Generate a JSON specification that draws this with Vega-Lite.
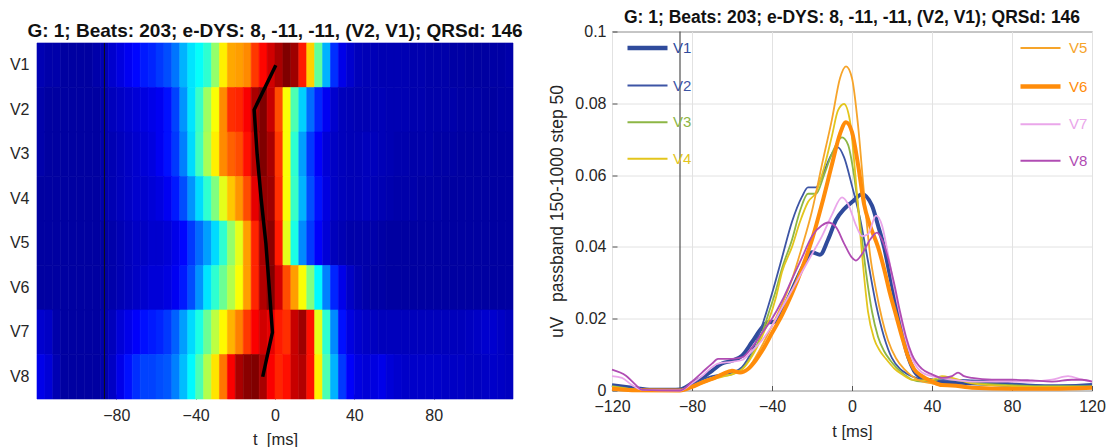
{
"background":"white",
"padding":{"left":9,"top":8.5,"right":0,"bottom":0},
"autosize":{"type":"pad"},
"config":{"font":"Liberation Sans","view":{"stroke":"#555555","strokeWidth":1},
"axis":{"labelFont":"Liberation Sans","labelFontSize":16,"labelColor":"#262626","titleFont":"Liberation Sans","titleFontSize":16.5,"titleFontWeight":"normal","titleColor":"#262626","domain":false,"tickColor":"#555555","labelFlush":false},
"title":{"font":"Liberation Sans","fontSize":17.5,"fontWeight":"bold","color":"#111111"},
"concat":{"spacing":25}},
"datasets":{
"vline":[{"t":-86}],
"path":[{"lead":"V1","t":0.4},{"lead":"V2","t":-10.5},{"lead":"V3","t":-9},{"lead":"V4","t":-7},{"lead":"V5","t":-4.6},{"lead":"V6","t":-2.9},{"lead":"V7","t":-1.3},{"lead":"V8","t":-6.2}],
"heat":[
{"lead":"V1","t0":-120,"t1":-116,"v":0.04},{"lead":"V1","t0":-116,"t1":-112,"v":0.03},{"lead":"V1","t0":-112,"t1":-108,"v":0.03},{"lead":"V1","t0":-108,"t1":-104,"v":0.02},{"lead":"V1","t0":-104,"t1":-100,"v":0.02},{"lead":"V1","t0":-100,"t1":-96,"v":0.02},{"lead":"V1","t0":-96,"t1":-92,"v":0.02},{"lead":"V1","t0":-92,"t1":-88,"v":0.03},{"lead":"V1","t0":-88,"t1":-84,"v":0.04},{"lead":"V1","t0":-84,"t1":-80,"v":0.07},{"lead":"V1","t0":-80,"t1":-76,"v":0.09},{"lead":"V1","t0":-76,"t1":-72,"v":0.11},{"lead":"V1","t0":-72,"t1":-68,"v":0.13},{"lead":"V1","t0":-68,"t1":-64,"v":0.15},{"lead":"V1","t0":-64,"t1":-60,"v":0.16},{"lead":"V1","t0":-60,"t1":-56,"v":0.18},{"lead":"V1","t0":-56,"t1":-52,"v":0.2},{"lead":"V1","t0":-52,"t1":-48,"v":0.24},{"lead":"V1","t0":-48,"t1":-44,"v":0.3},{"lead":"V1","t0":-44,"t1":-40,"v":0.35},{"lead":"V1","t0":-40,"t1":-36,"v":0.38},{"lead":"V1","t0":-36,"t1":-32,"v":0.42},{"lead":"V1","t0":-32,"t1":-28,"v":0.52},{"lead":"V1","t0":-28,"t1":-24,"v":0.64},{"lead":"V1","t0":-24,"t1":-20,"v":0.71},{"lead":"V1","t0":-20,"t1":-16,"v":0.72},{"lead":"V1","t0":-16,"t1":-12,"v":0.74},{"lead":"V1","t0":-12,"t1":-8,"v":0.82},{"lead":"V1","t0":-8,"t1":-4,"v":0.87},{"lead":"V1","t0":-4,"t1":0,"v":0.92},{"lead":"V1","t0":0,"t1":4,"v":0.96},{"lead":"V1","t0":4,"t1":8,"v":1.0},{"lead":"V1","t0":8,"t1":12,"v":0.97},{"lead":"V1","t0":12,"t1":16,"v":0.85},{"lead":"V1","t0":16,"t1":20,"v":0.67},{"lead":"V1","t0":20,"t1":24,"v":0.47},{"lead":"V1","t0":24,"t1":28,"v":0.3},{"lead":"V1","t0":28,"t1":32,"v":0.17},{"lead":"V1","t0":32,"t1":36,"v":0.1},{"lead":"V1","t0":36,"t1":40,"v":0.07},{"lead":"V1","t0":40,"t1":44,"v":0.05},{"lead":"V1","t0":44,"t1":48,"v":0.045},{"lead":"V1","t0":48,"t1":52,"v":0.045},{"lead":"V1","t0":52,"t1":56,"v":0.04},{"lead":"V1","t0":56,"t1":60,"v":0.04},{"lead":"V1","t0":60,"t1":64,"v":0.04},{"lead":"V1","t0":64,"t1":68,"v":0.04},{"lead":"V1","t0":68,"t1":72,"v":0.035},{"lead":"V1","t0":72,"t1":76,"v":0.035},{"lead":"V1","t0":76,"t1":80,"v":0.03},{"lead":"V1","t0":80,"t1":84,"v":0.03},{"lead":"V1","t0":84,"t1":88,"v":0.03},{"lead":"V1","t0":88,"t1":92,"v":0.025},{"lead":"V1","t0":92,"t1":96,"v":0.025},{"lead":"V1","t0":96,"t1":100,"v":0.02},{"lead":"V1","t0":100,"t1":104,"v":0.02},{"lead":"V1","t0":104,"t1":108,"v":0.02},{"lead":"V1","t0":108,"t1":112,"v":0.025},{"lead":"V1","t0":112,"t1":116,"v":0.025},{"lead":"V1","t0":116,"t1":120,"v":0.03},
{"lead":"V2","t0":-120,"t1":-116,"v":0.03},{"lead":"V2","t0":-116,"t1":-112,"v":0.02},{"lead":"V2","t0":-112,"t1":-108,"v":0.02},{"lead":"V2","t0":-108,"t1":-104,"v":0.02},{"lead":"V2","t0":-104,"t1":-100,"v":0.02},{"lead":"V2","t0":-100,"t1":-96,"v":0.02},{"lead":"V2","t0":-96,"t1":-92,"v":0.02},{"lead":"V2","t0":-92,"t1":-88,"v":0.02},{"lead":"V2","t0":-88,"t1":-84,"v":0.03},{"lead":"V2","t0":-84,"t1":-80,"v":0.05},{"lead":"V2","t0":-80,"t1":-76,"v":0.06},{"lead":"V2","t0":-76,"t1":-72,"v":0.07},{"lead":"V2","t0":-72,"t1":-68,"v":0.08},{"lead":"V2","t0":-68,"t1":-64,"v":0.09},{"lead":"V2","t0":-64,"t1":-60,"v":0.1},{"lead":"V2","t0":-60,"t1":-56,"v":0.11},{"lead":"V2","t0":-56,"t1":-52,"v":0.14},{"lead":"V2","t0":-52,"t1":-48,"v":0.19},{"lead":"V2","t0":-48,"t1":-44,"v":0.27},{"lead":"V2","t0":-44,"t1":-40,"v":0.35},{"lead":"V2","t0":-40,"t1":-36,"v":0.43},{"lead":"V2","t0":-36,"t1":-32,"v":0.53},{"lead":"V2","t0":-32,"t1":-28,"v":0.62},{"lead":"V2","t0":-28,"t1":-24,"v":0.74},{"lead":"V2","t0":-24,"t1":-20,"v":0.83},{"lead":"V2","t0":-20,"t1":-16,"v":0.84},{"lead":"V2","t0":-16,"t1":-12,"v":0.88},{"lead":"V2","t0":-12,"t1":-8,"v":0.96},{"lead":"V2","t0":-8,"t1":-4,"v":1.0},{"lead":"V2","t0":-4,"t1":0,"v":0.93},{"lead":"V2","t0":0,"t1":4,"v":0.8},{"lead":"V2","t0":4,"t1":8,"v":0.62},{"lead":"V2","t0":8,"t1":12,"v":0.45},{"lead":"V2","t0":12,"t1":16,"v":0.33},{"lead":"V2","t0":16,"t1":20,"v":0.23},{"lead":"V2","t0":20,"t1":24,"v":0.16},{"lead":"V2","t0":24,"t1":28,"v":0.11},{"lead":"V2","t0":28,"t1":32,"v":0.07},{"lead":"V2","t0":32,"t1":36,"v":0.05},{"lead":"V2","t0":36,"t1":40,"v":0.045},{"lead":"V2","t0":40,"t1":44,"v":0.04},{"lead":"V2","t0":44,"t1":48,"v":0.04},{"lead":"V2","t0":48,"t1":52,"v":0.045},{"lead":"V2","t0":52,"t1":56,"v":0.045},{"lead":"V2","t0":56,"t1":60,"v":0.04},{"lead":"V2","t0":60,"t1":64,"v":0.04},{"lead":"V2","t0":64,"t1":68,"v":0.04},{"lead":"V2","t0":68,"t1":72,"v":0.035},{"lead":"V2","t0":72,"t1":76,"v":0.035},{"lead":"V2","t0":76,"t1":80,"v":0.03},{"lead":"V2","t0":80,"t1":84,"v":0.03},{"lead":"V2","t0":84,"t1":88,"v":0.03},{"lead":"V2","t0":88,"t1":92,"v":0.03},{"lead":"V2","t0":92,"t1":96,"v":0.025},{"lead":"V2","t0":96,"t1":100,"v":0.025},{"lead":"V2","t0":100,"t1":104,"v":0.025},{"lead":"V2","t0":104,"t1":108,"v":0.02},{"lead":"V2","t0":108,"t1":112,"v":0.02},{"lead":"V2","t0":112,"t1":116,"v":0.025},{"lead":"V2","t0":116,"t1":120,"v":0.025},
{"lead":"V3","t0":-120,"t1":-116,"v":0.03},{"lead":"V3","t0":-116,"t1":-112,"v":0.02},{"lead":"V3","t0":-112,"t1":-108,"v":0.02},{"lead":"V3","t0":-108,"t1":-104,"v":0.02},{"lead":"V3","t0":-104,"t1":-100,"v":0.02},{"lead":"V3","t0":-100,"t1":-96,"v":0.02},{"lead":"V3","t0":-96,"t1":-92,"v":0.02},{"lead":"V3","t0":-92,"t1":-88,"v":0.02},{"lead":"V3","t0":-88,"t1":-84,"v":0.03},{"lead":"V3","t0":-84,"t1":-80,"v":0.04},{"lead":"V3","t0":-80,"t1":-76,"v":0.05},{"lead":"V3","t0":-76,"t1":-72,"v":0.06},{"lead":"V3","t0":-72,"t1":-68,"v":0.07},{"lead":"V3","t0":-68,"t1":-64,"v":0.08},{"lead":"V3","t0":-64,"t1":-60,"v":0.09},{"lead":"V3","t0":-60,"t1":-56,"v":0.11},{"lead":"V3","t0":-56,"t1":-52,"v":0.14},{"lead":"V3","t0":-52,"t1":-48,"v":0.18},{"lead":"V3","t0":-48,"t1":-44,"v":0.25},{"lead":"V3","t0":-44,"t1":-40,"v":0.34},{"lead":"V3","t0":-40,"t1":-36,"v":0.44},{"lead":"V3","t0":-36,"t1":-32,"v":0.54},{"lead":"V3","t0":-32,"t1":-28,"v":0.64},{"lead":"V3","t0":-28,"t1":-24,"v":0.74},{"lead":"V3","t0":-24,"t1":-20,"v":0.78},{"lead":"V3","t0":-20,"t1":-16,"v":0.8},{"lead":"V3","t0":-16,"t1":-12,"v":0.86},{"lead":"V3","t0":-12,"t1":-8,"v":0.94},{"lead":"V3","t0":-8,"t1":-4,"v":1.0},{"lead":"V3","t0":-4,"t1":0,"v":0.96},{"lead":"V3","t0":0,"t1":4,"v":0.82},{"lead":"V3","t0":4,"t1":8,"v":0.62},{"lead":"V3","t0":8,"t1":12,"v":0.42},{"lead":"V3","t0":12,"t1":16,"v":0.28},{"lead":"V3","t0":16,"t1":20,"v":0.18},{"lead":"V3","t0":20,"t1":24,"v":0.12},{"lead":"V3","t0":24,"t1":28,"v":0.08},{"lead":"V3","t0":28,"t1":32,"v":0.06},{"lead":"V3","t0":32,"t1":36,"v":0.05},{"lead":"V3","t0":36,"t1":40,"v":0.045},{"lead":"V3","t0":40,"t1":44,"v":0.045},{"lead":"V3","t0":44,"t1":48,"v":0.05},{"lead":"V3","t0":48,"t1":52,"v":0.05},{"lead":"V3","t0":52,"t1":56,"v":0.045},{"lead":"V3","t0":56,"t1":60,"v":0.04},{"lead":"V3","t0":60,"t1":64,"v":0.035},{"lead":"V3","t0":64,"t1":68,"v":0.035},{"lead":"V3","t0":68,"t1":72,"v":0.03},{"lead":"V3","t0":72,"t1":76,"v":0.03},{"lead":"V3","t0":76,"t1":80,"v":0.03},{"lead":"V3","t0":80,"t1":84,"v":0.025},{"lead":"V3","t0":84,"t1":88,"v":0.025},{"lead":"V3","t0":88,"t1":92,"v":0.025},{"lead":"V3","t0":92,"t1":96,"v":0.02},{"lead":"V3","t0":96,"t1":100,"v":0.02},{"lead":"V3","t0":100,"t1":104,"v":0.02},{"lead":"V3","t0":104,"t1":108,"v":0.02},{"lead":"V3","t0":108,"t1":112,"v":0.02},{"lead":"V3","t0":112,"t1":116,"v":0.02},{"lead":"V3","t0":116,"t1":120,"v":0.02},
{"lead":"V4","t0":-120,"t1":-116,"v":0.02},{"lead":"V4","t0":-116,"t1":-112,"v":0.02},{"lead":"V4","t0":-112,"t1":-108,"v":0.02},{"lead":"V4","t0":-108,"t1":-104,"v":0.02},{"lead":"V4","t0":-104,"t1":-100,"v":0.02},{"lead":"V4","t0":-100,"t1":-96,"v":0.02},{"lead":"V4","t0":-96,"t1":-92,"v":0.02},{"lead":"V4","t0":-92,"t1":-88,"v":0.02},{"lead":"V4","t0":-88,"t1":-84,"v":0.03},{"lead":"V4","t0":-84,"t1":-80,"v":0.04},{"lead":"V4","t0":-80,"t1":-76,"v":0.05},{"lead":"V4","t0":-76,"t1":-72,"v":0.06},{"lead":"V4","t0":-72,"t1":-68,"v":0.07},{"lead":"V4","t0":-68,"t1":-64,"v":0.07},{"lead":"V4","t0":-64,"t1":-60,"v":0.08},{"lead":"V4","t0":-60,"t1":-56,"v":0.09},{"lead":"V4","t0":-56,"t1":-52,"v":0.11},{"lead":"V4","t0":-52,"t1":-48,"v":0.15},{"lead":"V4","t0":-48,"t1":-44,"v":0.2},{"lead":"V4","t0":-44,"t1":-40,"v":0.27},{"lead":"V4","t0":-40,"t1":-36,"v":0.34},{"lead":"V4","t0":-36,"t1":-32,"v":0.42},{"lead":"V4","t0":-32,"t1":-28,"v":0.5},{"lead":"V4","t0":-28,"t1":-24,"v":0.6},{"lead":"V4","t0":-24,"t1":-20,"v":0.68},{"lead":"V4","t0":-20,"t1":-16,"v":0.73},{"lead":"V4","t0":-16,"t1":-12,"v":0.8},{"lead":"V4","t0":-12,"t1":-8,"v":0.9},{"lead":"V4","t0":-8,"t1":-4,"v":0.98},{"lead":"V4","t0":-4,"t1":0,"v":0.97},{"lead":"V4","t0":0,"t1":4,"v":0.83},{"lead":"V4","t0":4,"t1":8,"v":0.62},{"lead":"V4","t0":8,"t1":12,"v":0.43},{"lead":"V4","t0":12,"t1":16,"v":0.3},{"lead":"V4","t0":16,"t1":20,"v":0.2},{"lead":"V4","t0":20,"t1":24,"v":0.14},{"lead":"V4","t0":24,"t1":28,"v":0.09},{"lead":"V4","t0":28,"t1":32,"v":0.06},{"lead":"V4","t0":32,"t1":36,"v":0.05},{"lead":"V4","t0":36,"t1":40,"v":0.045},{"lead":"V4","t0":40,"t1":44,"v":0.045},{"lead":"V4","t0":44,"t1":48,"v":0.05},{"lead":"V4","t0":48,"t1":52,"v":0.045},{"lead":"V4","t0":52,"t1":56,"v":0.04},{"lead":"V4","t0":56,"t1":60,"v":0.035},{"lead":"V4","t0":60,"t1":64,"v":0.03},{"lead":"V4","t0":64,"t1":68,"v":0.03},{"lead":"V4","t0":68,"t1":72,"v":0.03},{"lead":"V4","t0":72,"t1":76,"v":0.025},{"lead":"V4","t0":76,"t1":80,"v":0.025},{"lead":"V4","t0":80,"t1":84,"v":0.025},{"lead":"V4","t0":84,"t1":88,"v":0.02},{"lead":"V4","t0":88,"t1":92,"v":0.02},{"lead":"V4","t0":92,"t1":96,"v":0.02},{"lead":"V4","t0":96,"t1":100,"v":0.02},{"lead":"V4","t0":100,"t1":104,"v":0.02},{"lead":"V4","t0":104,"t1":108,"v":0.02},{"lead":"V4","t0":108,"t1":112,"v":0.02},{"lead":"V4","t0":112,"t1":116,"v":0.02},{"lead":"V4","t0":116,"t1":120,"v":0.02},
{"lead":"V5","t0":-120,"t1":-116,"v":0.02},{"lead":"V5","t0":-116,"t1":-112,"v":0.02},{"lead":"V5","t0":-112,"t1":-108,"v":0.02},{"lead":"V5","t0":-108,"t1":-104,"v":0.02},{"lead":"V5","t0":-104,"t1":-100,"v":0.02},{"lead":"V5","t0":-100,"t1":-96,"v":0.02},{"lead":"V5","t0":-96,"t1":-92,"v":0.02},{"lead":"V5","t0":-92,"t1":-88,"v":0.02},{"lead":"V5","t0":-88,"t1":-84,"v":0.02},{"lead":"V5","t0":-84,"t1":-80,"v":0.03},{"lead":"V5","t0":-80,"t1":-76,"v":0.04},{"lead":"V5","t0":-76,"t1":-72,"v":0.05},{"lead":"V5","t0":-72,"t1":-68,"v":0.06},{"lead":"V5","t0":-68,"t1":-64,"v":0.06},{"lead":"V5","t0":-64,"t1":-60,"v":0.07},{"lead":"V5","t0":-60,"t1":-56,"v":0.07},{"lead":"V5","t0":-56,"t1":-52,"v":0.08},{"lead":"V5","t0":-52,"t1":-48,"v":0.1},{"lead":"V5","t0":-48,"t1":-44,"v":0.13},{"lead":"V5","t0":-44,"t1":-40,"v":0.18},{"lead":"V5","t0":-40,"t1":-36,"v":0.23},{"lead":"V5","t0":-36,"t1":-32,"v":0.28},{"lead":"V5","t0":-32,"t1":-28,"v":0.34},{"lead":"V5","t0":-28,"t1":-24,"v":0.42},{"lead":"V5","t0":-24,"t1":-20,"v":0.52},{"lead":"V5","t0":-20,"t1":-16,"v":0.6},{"lead":"V5","t0":-16,"t1":-12,"v":0.72},{"lead":"V5","t0":-12,"t1":-8,"v":0.84},{"lead":"V5","t0":-8,"t1":-4,"v":0.96},{"lead":"V5","t0":-4,"t1":0,"v":0.99},{"lead":"V5","t0":0,"t1":4,"v":0.85},{"lead":"V5","t0":4,"t1":8,"v":0.6},{"lead":"V5","t0":8,"t1":12,"v":0.4},{"lead":"V5","t0":12,"t1":16,"v":0.26},{"lead":"V5","t0":16,"t1":20,"v":0.18},{"lead":"V5","t0":20,"t1":24,"v":0.12},{"lead":"V5","t0":24,"t1":28,"v":0.08},{"lead":"V5","t0":28,"t1":32,"v":0.05},{"lead":"V5","t0":32,"t1":36,"v":0.04},{"lead":"V5","t0":36,"t1":40,"v":0.03},{"lead":"V5","t0":40,"t1":44,"v":0.03},{"lead":"V5","t0":44,"t1":48,"v":0.03},{"lead":"V5","t0":48,"t1":52,"v":0.03},{"lead":"V5","t0":52,"t1":56,"v":0.025},{"lead":"V5","t0":56,"t1":60,"v":0.02},{"lead":"V5","t0":60,"t1":64,"v":0.02},{"lead":"V5","t0":64,"t1":68,"v":0.02},{"lead":"V5","t0":68,"t1":72,"v":0.02},{"lead":"V5","t0":72,"t1":76,"v":0.02},{"lead":"V5","t0":76,"t1":80,"v":0.02},{"lead":"V5","t0":80,"t1":84,"v":0.02},{"lead":"V5","t0":84,"t1":88,"v":0.02},{"lead":"V5","t0":88,"t1":92,"v":0.02},{"lead":"V5","t0":92,"t1":96,"v":0.02},{"lead":"V5","t0":96,"t1":100,"v":0.02},{"lead":"V5","t0":100,"t1":104,"v":0.02},{"lead":"V5","t0":104,"t1":108,"v":0.02},{"lead":"V5","t0":108,"t1":112,"v":0.02},{"lead":"V5","t0":112,"t1":116,"v":0.02},{"lead":"V5","t0":116,"t1":120,"v":0.02},
{"lead":"V6","t0":-120,"t1":-116,"v":0.02},{"lead":"V6","t0":-116,"t1":-112,"v":0.02},{"lead":"V6","t0":-112,"t1":-108,"v":0.02},{"lead":"V6","t0":-108,"t1":-104,"v":0.02},{"lead":"V6","t0":-104,"t1":-100,"v":0.02},{"lead":"V6","t0":-100,"t1":-96,"v":0.02},{"lead":"V6","t0":-96,"t1":-92,"v":0.02},{"lead":"V6","t0":-92,"t1":-88,"v":0.02},{"lead":"V6","t0":-88,"t1":-84,"v":0.02},{"lead":"V6","t0":-84,"t1":-80,"v":0.03},{"lead":"V6","t0":-80,"t1":-76,"v":0.04},{"lead":"V6","t0":-76,"t1":-72,"v":0.05},{"lead":"V6","t0":-72,"t1":-68,"v":0.06},{"lead":"V6","t0":-68,"t1":-64,"v":0.07},{"lead":"V6","t0":-64,"t1":-60,"v":0.08},{"lead":"V6","t0":-60,"t1":-56,"v":0.08},{"lead":"V6","t0":-56,"t1":-52,"v":0.09},{"lead":"V6","t0":-52,"t1":-48,"v":0.11},{"lead":"V6","t0":-48,"t1":-44,"v":0.15},{"lead":"V6","t0":-44,"t1":-40,"v":0.2},{"lead":"V6","t0":-40,"t1":-36,"v":0.27},{"lead":"V6","t0":-36,"t1":-32,"v":0.35},{"lead":"V6","t0":-32,"t1":-28,"v":0.42},{"lead":"V6","t0":-28,"t1":-24,"v":0.48},{"lead":"V6","t0":-24,"t1":-20,"v":0.55},{"lead":"V6","t0":-20,"t1":-16,"v":0.62},{"lead":"V6","t0":-16,"t1":-12,"v":0.72},{"lead":"V6","t0":-12,"t1":-8,"v":0.84},{"lead":"V6","t0":-8,"t1":-4,"v":0.95},{"lead":"V6","t0":-4,"t1":0,"v":1.0},{"lead":"V6","t0":0,"t1":4,"v":0.92},{"lead":"V6","t0":4,"t1":8,"v":0.8},{"lead":"V6","t0":8,"t1":12,"v":0.72},{"lead":"V6","t0":12,"t1":16,"v":0.62},{"lead":"V6","t0":16,"t1":20,"v":0.5},{"lead":"V6","t0":20,"t1":24,"v":0.37},{"lead":"V6","t0":24,"t1":28,"v":0.25},{"lead":"V6","t0":28,"t1":32,"v":0.16},{"lead":"V6","t0":32,"t1":36,"v":0.1},{"lead":"V6","t0":36,"t1":40,"v":0.06},{"lead":"V6","t0":40,"t1":44,"v":0.04},{"lead":"V6","t0":44,"t1":48,"v":0.03},{"lead":"V6","t0":48,"t1":52,"v":0.025},{"lead":"V6","t0":52,"t1":56,"v":0.025},{"lead":"V6","t0":56,"t1":60,"v":0.02},{"lead":"V6","t0":60,"t1":64,"v":0.02},{"lead":"V6","t0":64,"t1":68,"v":0.02},{"lead":"V6","t0":68,"t1":72,"v":0.02},{"lead":"V6","t0":72,"t1":76,"v":0.02},{"lead":"V6","t0":76,"t1":80,"v":0.02},{"lead":"V6","t0":80,"t1":84,"v":0.02},{"lead":"V6","t0":84,"t1":88,"v":0.02},{"lead":"V6","t0":88,"t1":92,"v":0.02},{"lead":"V6","t0":92,"t1":96,"v":0.02},{"lead":"V6","t0":96,"t1":100,"v":0.02},{"lead":"V6","t0":100,"t1":104,"v":0.02},{"lead":"V6","t0":104,"t1":108,"v":0.02},{"lead":"V6","t0":108,"t1":112,"v":0.02},{"lead":"V6","t0":112,"t1":116,"v":0.02},{"lead":"V6","t0":116,"t1":120,"v":0.02},
{"lead":"V7","t0":-120,"t1":-116,"v":0.07},{"lead":"V7","t0":-116,"t1":-112,"v":0.06},{"lead":"V7","t0":-112,"t1":-108,"v":0.03},{"lead":"V7","t0":-108,"t1":-104,"v":0.02},{"lead":"V7","t0":-104,"t1":-100,"v":0.02},{"lead":"V7","t0":-100,"t1":-96,"v":0.02},{"lead":"V7","t0":-96,"t1":-92,"v":0.02},{"lead":"V7","t0":-92,"t1":-88,"v":0.02},{"lead":"V7","t0":-88,"t1":-84,"v":0.03},{"lead":"V7","t0":-84,"t1":-80,"v":0.05},{"lead":"V7","t0":-80,"t1":-76,"v":0.08},{"lead":"V7","t0":-76,"t1":-72,"v":0.1},{"lead":"V7","t0":-72,"t1":-68,"v":0.12},{"lead":"V7","t0":-68,"t1":-64,"v":0.14},{"lead":"V7","t0":-64,"t1":-60,"v":0.15},{"lead":"V7","t0":-60,"t1":-56,"v":0.16},{"lead":"V7","t0":-56,"t1":-52,"v":0.18},{"lead":"V7","t0":-52,"t1":-48,"v":0.22},{"lead":"V7","t0":-48,"t1":-44,"v":0.28},{"lead":"V7","t0":-44,"t1":-40,"v":0.34},{"lead":"V7","t0":-40,"t1":-36,"v":0.4},{"lead":"V7","t0":-36,"t1":-32,"v":0.48},{"lead":"V7","t0":-32,"t1":-28,"v":0.56},{"lead":"V7","t0":-28,"t1":-24,"v":0.63},{"lead":"V7","t0":-24,"t1":-20,"v":0.7},{"lead":"V7","t0":-20,"t1":-16,"v":0.75},{"lead":"V7","t0":-16,"t1":-12,"v":0.82},{"lead":"V7","t0":-12,"t1":-8,"v":0.88},{"lead":"V7","t0":-8,"t1":-4,"v":0.92},{"lead":"V7","t0":-4,"t1":0,"v":0.9},{"lead":"V7","t0":0,"t1":4,"v":0.85},{"lead":"V7","t0":4,"t1":8,"v":0.83},{"lead":"V7","t0":8,"t1":12,"v":0.93},{"lead":"V7","t0":12,"t1":16,"v":0.97},{"lead":"V7","t0":16,"t1":20,"v":0.86},{"lead":"V7","t0":20,"t1":24,"v":0.6},{"lead":"V7","t0":24,"t1":28,"v":0.42},{"lead":"V7","t0":28,"t1":32,"v":0.26},{"lead":"V7","t0":32,"t1":36,"v":0.14},{"lead":"V7","t0":36,"t1":40,"v":0.09},{"lead":"V7","t0":40,"t1":44,"v":0.07},{"lead":"V7","t0":44,"t1":48,"v":0.06},{"lead":"V7","t0":48,"t1":52,"v":0.055},{"lead":"V7","t0":52,"t1":56,"v":0.05},{"lead":"V7","t0":56,"t1":60,"v":0.05},{"lead":"V7","t0":60,"t1":64,"v":0.05},{"lead":"V7","t0":64,"t1":68,"v":0.05},{"lead":"V7","t0":68,"t1":72,"v":0.05},{"lead":"V7","t0":72,"t1":76,"v":0.05},{"lead":"V7","t0":76,"t1":80,"v":0.05},{"lead":"V7","t0":80,"t1":84,"v":0.05},{"lead":"V7","t0":84,"t1":88,"v":0.05},{"lead":"V7","t0":88,"t1":92,"v":0.05},{"lead":"V7","t0":92,"t1":96,"v":0.05},{"lead":"V7","t0":96,"t1":100,"v":0.055},{"lead":"V7","t0":100,"t1":104,"v":0.06},{"lead":"V7","t0":104,"t1":108,"v":0.07},{"lead":"V7","t0":108,"t1":112,"v":0.07},{"lead":"V7","t0":112,"t1":116,"v":0.06},{"lead":"V7","t0":116,"t1":120,"v":0.05},
{"lead":"V8","t0":-120,"t1":-116,"v":0.1},{"lead":"V8","t0":-116,"t1":-112,"v":0.08},{"lead":"V8","t0":-112,"t1":-108,"v":0.04},{"lead":"V8","t0":-108,"t1":-104,"v":0.02},{"lead":"V8","t0":-104,"t1":-100,"v":0.02},{"lead":"V8","t0":-100,"t1":-96,"v":0.02},{"lead":"V8","t0":-96,"t1":-92,"v":0.02},{"lead":"V8","t0":-92,"t1":-88,"v":0.02},{"lead":"V8","t0":-88,"t1":-84,"v":0.03},{"lead":"V8","t0":-84,"t1":-80,"v":0.06},{"lead":"V8","t0":-80,"t1":-76,"v":0.1},{"lead":"V8","t0":-76,"t1":-72,"v":0.14},{"lead":"V8","t0":-72,"t1":-68,"v":0.17},{"lead":"V8","t0":-68,"t1":-64,"v":0.19},{"lead":"V8","t0":-64,"t1":-60,"v":0.19},{"lead":"V8","t0":-60,"t1":-56,"v":0.2},{"lead":"V8","t0":-56,"t1":-52,"v":0.21},{"lead":"V8","t0":-52,"t1":-48,"v":0.25},{"lead":"V8","t0":-48,"t1":-44,"v":0.31},{"lead":"V8","t0":-44,"t1":-40,"v":0.37},{"lead":"V8","t0":-40,"t1":-36,"v":0.45},{"lead":"V8","t0":-36,"t1":-32,"v":0.55},{"lead":"V8","t0":-32,"t1":-28,"v":0.65},{"lead":"V8","t0":-28,"t1":-24,"v":0.76},{"lead":"V8","t0":-24,"t1":-20,"v":0.88},{"lead":"V8","t0":-20,"t1":-16,"v":0.96},{"lead":"V8","t0":-16,"t1":-12,"v":0.99},{"lead":"V8","t0":-12,"t1":-8,"v":1.0},{"lead":"V8","t0":-8,"t1":-4,"v":0.96},{"lead":"V8","t0":-4,"t1":0,"v":0.88},{"lead":"V8","t0":0,"t1":4,"v":0.84},{"lead":"V8","t0":4,"t1":8,"v":0.86},{"lead":"V8","t0":8,"t1":12,"v":0.93},{"lead":"V8","t0":12,"t1":16,"v":0.95},{"lead":"V8","t0":16,"t1":20,"v":0.86},{"lead":"V8","t0":20,"t1":24,"v":0.64},{"lead":"V8","t0":24,"t1":28,"v":0.45},{"lead":"V8","t0":28,"t1":32,"v":0.3},{"lead":"V8","t0":32,"t1":36,"v":0.18},{"lead":"V8","t0":36,"t1":40,"v":0.12},{"lead":"V8","t0":40,"t1":44,"v":0.09},{"lead":"V8","t0":44,"t1":48,"v":0.08},{"lead":"V8","t0":48,"t1":52,"v":0.09},{"lead":"V8","t0":52,"t1":56,"v":0.1},{"lead":"V8","t0":56,"t1":60,"v":0.08},{"lead":"V8","t0":60,"t1":64,"v":0.07},{"lead":"V8","t0":64,"t1":68,"v":0.065},{"lead":"V8","t0":68,"t1":72,"v":0.065},{"lead":"V8","t0":72,"t1":76,"v":0.065},{"lead":"V8","t0":76,"t1":80,"v":0.065},{"lead":"V8","t0":80,"t1":84,"v":0.065},{"lead":"V8","t0":84,"t1":88,"v":0.06},{"lead":"V8","t0":88,"t1":92,"v":0.06},{"lead":"V8","t0":92,"t1":96,"v":0.06},{"lead":"V8","t0":96,"t1":100,"v":0.055},{"lead":"V8","t0":100,"t1":104,"v":0.055},{"lead":"V8","t0":104,"t1":108,"v":0.06},{"lead":"V8","t0":108,"t1":112,"v":0.065},{"lead":"V8","t0":112,"t1":116,"v":0.06},{"lead":"V8","t0":116,"t1":120,"v":0.055}
],
"lines":[
{"lead":"V1","t":-120,"v":0.0015},{"lead":"V1","t":-110,"v":0.0008},{"lead":"V1","t":-100,"v":0.0002},{"lead":"V1","t":-90,"v":0.0002},{"lead":"V1","t":-86,"v":0.0003},{"lead":"V1","t":-80,"v":0.002},{"lead":"V1","t":-75,"v":0.0035},{"lead":"V1","t":-70,"v":0.0055},{"lead":"V1","t":-65,"v":0.0075},{"lead":"V1","t":-60,"v":0.0083},{"lead":"V1","t":-55,"v":0.0097},{"lead":"V1","t":-50,"v":0.0135},{"lead":"V1","t":-45,"v":0.0175},{"lead":"V1","t":-42,"v":0.019},{"lead":"V1","t":-38,"v":0.0192},{"lead":"V1","t":-35,"v":0.022},{"lead":"V1","t":-30,"v":0.028},{"lead":"V1","t":-25,"v":0.034},{"lead":"V1","t":-20,"v":0.0385},{"lead":"V1","t":-16,"v":0.0378},{"lead":"V1","t":-12,"v":0.042},{"lead":"V1","t":-8,"v":0.0475},{"lead":"V1","t":-4,"v":0.0505},{"lead":"V1","t":0,"v":0.0525},{"lead":"V1","t":5,"v":0.0547},{"lead":"V1","t":10,"v":0.0515},{"lead":"V1","t":13,"v":0.046},{"lead":"V1","t":16,"v":0.04},{"lead":"V1","t":19,"v":0.032},{"lead":"V1","t":22,"v":0.024},{"lead":"V1","t":25,"v":0.016},{"lead":"V1","t":28,"v":0.0095},{"lead":"V1","t":31,"v":0.0055},{"lead":"V1","t":35,"v":0.0035},{"lead":"V1","t":40,"v":0.0028},{"lead":"V1","t":45,"v":0.0022},{"lead":"V1","t":50,"v":0.0022},{"lead":"V1","t":60,"v":0.002},{"lead":"V1","t":70,"v":0.0018},{"lead":"V1","t":80,"v":0.0015},{"lead":"V1","t":90,"v":0.0012},{"lead":"V1","t":100,"v":0.001},{"lead":"V1","t":110,"v":0.0012},{"lead":"V1","t":120,"v":0.0015},
{"lead":"V2","t":-120,"v":0.0015},{"lead":"V2","t":-110,"v":0.0005},{"lead":"V2","t":-100,"v":0.0001},{"lead":"V2","t":-86,"v":0.0001},{"lead":"V2","t":-80,"v":0.0015},{"lead":"V2","t":-75,"v":0.003},{"lead":"V2","t":-70,"v":0.004},{"lead":"V2","t":-65,"v":0.0045},{"lead":"V2","t":-60,"v":0.005},{"lead":"V2","t":-55,"v":0.0065},{"lead":"V2","t":-50,"v":0.011},{"lead":"V2","t":-45,"v":0.018},{"lead":"V2","t":-40,"v":0.027},{"lead":"V2","t":-35,"v":0.037},{"lead":"V2","t":-30,"v":0.047},{"lead":"V2","t":-25,"v":0.054},{"lead":"V2","t":-22,"v":0.0566},{"lead":"V2","t":-18,"v":0.0566},{"lead":"V2","t":-14,"v":0.061},{"lead":"V2","t":-10,"v":0.066},{"lead":"V2","t":-7,"v":0.0677},{"lead":"V2","t":-4,"v":0.065},{"lead":"V2","t":0,"v":0.057},{"lead":"V2","t":4,"v":0.048},{"lead":"V2","t":8,"v":0.036},{"lead":"V2","t":12,"v":0.024},{"lead":"V2","t":16,"v":0.015},{"lead":"V2","t":20,"v":0.009},{"lead":"V2","t":24,"v":0.006},{"lead":"V2","t":28,"v":0.0045},{"lead":"V2","t":32,"v":0.0035},{"lead":"V2","t":36,"v":0.003},{"lead":"V2","t":40,"v":0.0028},{"lead":"V2","t":50,"v":0.003},{"lead":"V2","t":60,"v":0.0028},{"lead":"V2","t":70,"v":0.0025},{"lead":"V2","t":80,"v":0.002},{"lead":"V2","t":100,"v":0.0015},{"lead":"V2","t":120,"v":0.0015},
{"lead":"V3","t":-120,"v":0.0012},{"lead":"V3","t":-110,"v":0.0004},{"lead":"V3","t":-100,"v":0},{"lead":"V3","t":-86,"v":0},{"lead":"V3","t":-80,"v":0.0012},{"lead":"V3","t":-75,"v":0.0025},{"lead":"V3","t":-70,"v":0.0035},{"lead":"V3","t":-65,"v":0.004},{"lead":"V3","t":-60,"v":0.0045},{"lead":"V3","t":-55,"v":0.006},{"lead":"V3","t":-50,"v":0.01},{"lead":"V3","t":-45,"v":0.016},{"lead":"V3","t":-42,"v":0.021},{"lead":"V3","t":-38,"v":0.028},{"lead":"V3","t":-35,"v":0.034},{"lead":"V3","t":-30,"v":0.042},{"lead":"V3","t":-26,"v":0.05},{"lead":"V3","t":-22,"v":0.0548},{"lead":"V3","t":-18,"v":0.0548},{"lead":"V3","t":-14,"v":0.06},{"lead":"V3","t":-10,"v":0.066},{"lead":"V3","t":-5,"v":0.0705},{"lead":"V3","t":-2,"v":0.0685},{"lead":"V3","t":1,"v":0.06},{"lead":"V3","t":4,"v":0.047},{"lead":"V3","t":7,"v":0.033},{"lead":"V3","t":10,"v":0.022},{"lead":"V3","t":13,"v":0.015},{"lead":"V3","t":16,"v":0.011},{"lead":"V3","t":19,"v":0.0085},{"lead":"V3","t":22,"v":0.0065},{"lead":"V3","t":26,"v":0.0045},{"lead":"V3","t":30,"v":0.003},{"lead":"V3","t":35,"v":0.0025},{"lead":"V3","t":40,"v":0.0025},{"lead":"V3","t":45,"v":0.0035},{"lead":"V3","t":50,"v":0.003},{"lead":"V3","t":60,"v":0.0022},{"lead":"V3","t":80,"v":0.0015},{"lead":"V3","t":100,"v":0.0012},{"lead":"V3","t":120,"v":0.0012},
{"lead":"V4","t":-120,"v":0.001},{"lead":"V4","t":-110,"v":0.0003},{"lead":"V4","t":-100,"v":0},{"lead":"V4","t":-86,"v":0},{"lead":"V4","t":-80,"v":0.001},{"lead":"V4","t":-75,"v":0.002},{"lead":"V4","t":-70,"v":0.003},{"lead":"V4","t":-65,"v":0.0038},{"lead":"V4","t":-60,"v":0.0045},{"lead":"V4","t":-55,"v":0.0058},{"lead":"V4","t":-50,"v":0.0095},{"lead":"V4","t":-45,"v":0.015},{"lead":"V4","t":-42,"v":0.019},{"lead":"V4","t":-38,"v":0.026},{"lead":"V4","t":-35,"v":0.033},{"lead":"V4","t":-30,"v":0.04},{"lead":"V4","t":-26,"v":0.047},{"lead":"V4","t":-22,"v":0.0525},{"lead":"V4","t":-18,"v":0.0552},{"lead":"V4","t":-14,"v":0.062},{"lead":"V4","t":-10,"v":0.071},{"lead":"V4","t":-7,"v":0.078},{"lead":"V4","t":-4,"v":0.0798},{"lead":"V4","t":-1,"v":0.075},{"lead":"V4","t":2,"v":0.058},{"lead":"V4","t":5,"v":0.038},{"lead":"V4","t":8,"v":0.022},{"lead":"V4","t":11,"v":0.0145},{"lead":"V4","t":14,"v":0.011},{"lead":"V4","t":17,"v":0.0088},{"lead":"V4","t":21,"v":0.0062},{"lead":"V4","t":25,"v":0.0045},{"lead":"V4","t":30,"v":0.003},{"lead":"V4","t":35,"v":0.0028},{"lead":"V4","t":40,"v":0.003},{"lead":"V4","t":45,"v":0.004},{"lead":"V4","t":50,"v":0.0035},{"lead":"V4","t":60,"v":0.002},{"lead":"V4","t":80,"v":0.0012},{"lead":"V4","t":100,"v":0.001},{"lead":"V4","t":120,"v":0.001},
{"lead":"V5","t":-120,"v":0.0005},{"lead":"V5","t":-110,"v":0.0001},{"lead":"V5","t":-86,"v":0},{"lead":"V5","t":-80,"v":0.0012},{"lead":"V5","t":-75,"v":0.0025},{"lead":"V5","t":-70,"v":0.0035},{"lead":"V5","t":-65,"v":0.0045},{"lead":"V5","t":-60,"v":0.0055},{"lead":"V5","t":-56,"v":0.005},{"lead":"V5","t":-52,"v":0.0062},{"lead":"V5","t":-48,"v":0.0095},{"lead":"V5","t":-45,"v":0.0125},{"lead":"V5","t":-40,"v":0.018},{"lead":"V5","t":-35,"v":0.024},{"lead":"V5","t":-30,"v":0.031},{"lead":"V5","t":-25,"v":0.04},{"lead":"V5","t":-20,"v":0.05},{"lead":"V5","t":-15,"v":0.063},{"lead":"V5","t":-10,"v":0.0756},{"lead":"V5","t":-6,"v":0.087},{"lead":"V5","t":-3,"v":0.0903},{"lead":"V5","t":0,"v":0.087},{"lead":"V5","t":3,"v":0.074},{"lead":"V5","t":6,"v":0.055},{"lead":"V5","t":9,"v":0.038},{"lead":"V5","t":12,"v":0.028},{"lead":"V5","t":15,"v":0.02},{"lead":"V5","t":18,"v":0.014},{"lead":"V5","t":22,"v":0.009},{"lead":"V5","t":26,"v":0.006},{"lead":"V5","t":30,"v":0.004},{"lead":"V5","t":35,"v":0.0025},{"lead":"V5","t":40,"v":0.002},{"lead":"V5","t":45,"v":0.0015},{"lead":"V5","t":50,"v":0.0015},{"lead":"V5","t":60,"v":0.0008},{"lead":"V5","t":80,"v":0.0005},{"lead":"V5","t":100,"v":0.0005},{"lead":"V5","t":120,"v":0.0008},
{"lead":"V6","t":-120,"v":0.0005},{"lead":"V6","t":-110,"v":0.0001},{"lead":"V6","t":-86,"v":0},{"lead":"V6","t":-80,"v":0.001},{"lead":"V6","t":-75,"v":0.0022},{"lead":"V6","t":-70,"v":0.0032},{"lead":"V6","t":-65,"v":0.0045},{"lead":"V6","t":-60,"v":0.0055},{"lead":"V6","t":-56,"v":0.005},{"lead":"V6","t":-52,"v":0.006},{"lead":"V6","t":-48,"v":0.0085},{"lead":"V6","t":-45,"v":0.011},{"lead":"V6","t":-40,"v":0.016},{"lead":"V6","t":-35,"v":0.021},{"lead":"V6","t":-30,"v":0.027},{"lead":"V6","t":-25,"v":0.034},{"lead":"V6","t":-20,"v":0.042},{"lead":"V6","t":-15,"v":0.052},{"lead":"V6","t":-10,"v":0.063},{"lead":"V6","t":-6,"v":0.0715},{"lead":"V6","t":-3,"v":0.0747},{"lead":"V6","t":0,"v":0.072},{"lead":"V6","t":3,"v":0.063},{"lead":"V6","t":6,"v":0.052},{"lead":"V6","t":9,"v":0.046},{"lead":"V6","t":13,"v":0.04},{"lead":"V6","t":16,"v":0.034},{"lead":"V6","t":19,"v":0.027},{"lead":"V6","t":22,"v":0.021},{"lead":"V6","t":25,"v":0.015},{"lead":"V6","t":28,"v":0.0095},{"lead":"V6","t":31,"v":0.006},{"lead":"V6","t":35,"v":0.004},{"lead":"V6","t":40,"v":0.0025},{"lead":"V6","t":45,"v":0.0015},{"lead":"V6","t":50,"v":0.0014},{"lead":"V6","t":60,"v":0.0008},{"lead":"V6","t":80,"v":0.0005},{"lead":"V6","t":100,"v":0.0005},{"lead":"V6","t":120,"v":0.0008},
{"lead":"V7","t":-120,"v":0.004},{"lead":"V7","t":-115,"v":0.0035},{"lead":"V7","t":-110,"v":0.0015},{"lead":"V7","t":-105,"v":0.0002},{"lead":"V7","t":-86,"v":0},{"lead":"V7","t":-80,"v":0.002},{"lead":"V7","t":-75,"v":0.004},{"lead":"V7","t":-70,"v":0.0065},{"lead":"V7","t":-67,"v":0.0075},{"lead":"V7","t":-60,"v":0.008},{"lead":"V7","t":-55,"v":0.0085},{"lead":"V7","t":-50,"v":0.011},{"lead":"V7","t":-45,"v":0.014},{"lead":"V7","t":-40,"v":0.018},{"lead":"V7","t":-35,"v":0.023},{"lead":"V7","t":-30,"v":0.028},{"lead":"V7","t":-25,"v":0.033},{"lead":"V7","t":-20,"v":0.038},{"lead":"V7","t":-15,"v":0.043},{"lead":"V7","t":-10,"v":0.049},{"lead":"V7","t":-5,"v":0.0538},{"lead":"V7","t":-2,"v":0.052},{"lead":"V7","t":2,"v":0.046},{"lead":"V7","t":5,"v":0.043},{"lead":"V7","t":8,"v":0.0435},{"lead":"V7","t":12,"v":0.0487},{"lead":"V7","t":15,"v":0.046},{"lead":"V7","t":18,"v":0.038},{"lead":"V7","t":21,"v":0.029},{"lead":"V7","t":24,"v":0.021},{"lead":"V7","t":27,"v":0.014},{"lead":"V7","t":30,"v":0.009},{"lead":"V7","t":35,"v":0.005},{"lead":"V7","t":40,"v":0.004},{"lead":"V7","t":45,"v":0.0035},{"lead":"V7","t":50,"v":0.003},{"lead":"V7","t":60,"v":0.0025},{"lead":"V7","t":70,"v":0.0025},{"lead":"V7","t":80,"v":0.0025},{"lead":"V7","t":90,"v":0.0025},{"lead":"V7","t":100,"v":0.003},{"lead":"V7","t":108,"v":0.004},{"lead":"V7","t":115,"v":0.003},{"lead":"V7","t":120,"v":0.0025},
{"lead":"V8","t":-120,"v":0.0058},{"lead":"V8","t":-113,"v":0.0041},{"lead":"V8","t":-108,"v":0.0015},{"lead":"V8","t":-105,"v":0.0002},{"lead":"V8","t":-86,"v":0},{"lead":"V8","t":-80,"v":0.0025},{"lead":"V8","t":-75,"v":0.005},{"lead":"V8","t":-70,"v":0.0075},{"lead":"V8","t":-67,"v":0.0088},{"lead":"V8","t":-60,"v":0.0088},{"lead":"V8","t":-55,"v":0.0092},{"lead":"V8","t":-50,"v":0.012},{"lead":"V8","t":-45,"v":0.016},{"lead":"V8","t":-40,"v":0.02},{"lead":"V8","t":-35,"v":0.025},{"lead":"V8","t":-30,"v":0.031},{"lead":"V8","t":-25,"v":0.037},{"lead":"V8","t":-20,"v":0.043},{"lead":"V8","t":-15,"v":0.046},{"lead":"V8","t":-12,"v":0.0468},{"lead":"V8","t":-8,"v":0.0455},{"lead":"V8","t":-4,"v":0.041},{"lead":"V8","t":0,"v":0.037},{"lead":"V8","t":2,"v":0.0362},{"lead":"V8","t":5,"v":0.038},{"lead":"V8","t":9,"v":0.042},{"lead":"V8","t":12.5,"v":0.044},{"lead":"V8","t":15,"v":0.042},{"lead":"V8","t":18,"v":0.037},{"lead":"V8","t":21,"v":0.03},{"lead":"V8","t":24,"v":0.022},{"lead":"V8","t":27,"v":0.015},{"lead":"V8","t":30,"v":0.01},{"lead":"V8","t":35,"v":0.006},{"lead":"V8","t":40,"v":0.0045},{"lead":"V8","t":45,"v":0.0035},{"lead":"V8","t":50,"v":0.004},{"lead":"V8","t":53,"v":0.005},{"lead":"V8","t":56,"v":0.004},{"lead":"V8","t":60,"v":0.0035},{"lead":"V8","t":70,"v":0.003},{"lead":"V8","t":80,"v":0.003},{"lead":"V8","t":90,"v":0.0028},{"lead":"V8","t":100,"v":0.0025},{"lead":"V8","t":110,"v":0.003},{"lead":"V8","t":115,"v":0.003},{"lead":"V8","t":120,"v":0.0025}
]},
"hconcat":[
{"width":476,"height":367.5,"view":{"stroke":null},
"title":{"text":"G: 1; Beats: 203; e-DYS: 8, -11, -11, (V2, V1); QRSd: 146","offset":-9,"fontSize":19},
"layer":[
{"data":{"name":"heat"},"mark":{"type":"rect","strokeWidth":0.6},
"encoding":{
"x":{"field":"t0","type":"quantitative","scale":{"domain":[-120,120],"nice":false,"zero":false},"axis":{"values":[-80,-40,0,40,80],"title":"t\u00a0\u00a0[ms]","grid":false,"tickSize":-5,"labelPadding":13,"titlePadding":8}},
"x2":{"field":"t1"},
"y":{"field":"lead","type":"nominal","scale":{"paddingInner":0,"paddingOuter":0.1292,"align":1},"axis":{"title":null,"ticks":false,"labelPadding":8}},
"fill":{"field":"v","type":"quantitative","scale":{"type":"linear","domain":[0,0.125,0.375,0.625,0.875,1],"range":["#00008f","#0000ff","#00ffff","#ffff00","#ff0000","#800000"],"interpolate":"rgb"},"legend":null},
"stroke":{"field":"v","type":"quantitative","scale":{"type":"linear","domain":[0,0.125,0.375,0.625,0.875,1],"range":["#00008f","#0000ff","#00ffff","#ffff00","#ff0000","#800000"],"interpolate":"rgb"},"legend":null}}},
{"data":{"name":"vline"},"mark":{"type":"rule","color":"#111111","strokeWidth":1},"encoding":{"x":{"field":"t","type":"quantitative"},"y":{"datum":"V1","type":"nominal","bandPosition":0},"y2":{"datum":"V8","bandPosition":1}}},
{"data":{"name":"path"},"mark":{"type":"line","color":"#000000","strokeWidth":3.5},"encoding":{"x":{"field":"t","type":"quantitative"},"y":{"field":"lead","type":"nominal"},"order":{"field":"lead","type":"ordinal"}}}
]},
{"width":480,"height":359,
"title":{"text":"G: 1; Beats: 203; e-DYS: 8, -11, -11, (V2, V1); QRSd: 146","offset":-3},
"layer":[
{"data":{"name":"vline"},"mark":{"type":"rule","color":"#505050","strokeWidth":1.2},"encoding":{"x":{"field":"t","type":"quantitative","scale":{"domain":[-120,120],"nice":false,"zero":false},"axis":{"values":[-120,-80,-40,0,40,80,120],"title":"t [ms]","grid":true,"gridColor":"#e2e2e2","tickSize":-5,"labelPadding":13,"titlePadding":9}}}},
{"data":{"name":"lines"},"transform":[{"filter":{"field":"lead","oneOf":["V1","V2","V3","V4"]}}],
"mark":{"type":"line","interpolate":"monotone"},
"encoding":{
"x":{"field":"t","type":"quantitative"},
"y":{"field":"v","type":"quantitative","scale":{"domain":[0,0.1],"nice":false},"axis":{"values":[0,0.02,0.04,0.06,0.08,0.1],"format":".2~f","title":"uV\u00a0\u00a0\u00a0passband 150-1000 step 50","titleFontSize":17.5,"grid":true,"gridColor":"#e2e2e2","tickSize":-5,"labelPadding":11,"titlePadding":8}},
"color":{"field":"lead","type":"nominal","scale":{"domain":["V1","V2","V3","V4"],"range":["#2f4b9c","#3d55a5","#8db645","#e3c51c"]},
"legend":{"orient":"none","legendX":28,"legendY":9,"title":null,"symbolType":"stroke","symbolSize":1600,"symbolStrokeWidth":2,"labelFontSize":15,"labelOffset":18,"rowPadding":20.6,"padding":0,
"encode":{"symbols":{"update":{"strokeWidth":{"signal":"datum.label==='V1'?4.5:2"}}},"labels":{"update":{"fill":{"signal":"datum.label==='V1'?'#2f4b9c':datum.label==='V2'?'#3d55a5':datum.label==='V3'?'#8db645':'#e3c51c'"}}}}}},
"strokeWidth":{"condition":{"test":"datum.lead==='V1'","value":4},"value":1.8}}},
{"data":{"name":"lines"},"transform":[{"filter":{"field":"lead","oneOf":["V5","V6","V7","V8"]}}],
"mark":{"type":"line","interpolate":"monotone"},
"encoding":{
"x":{"field":"t","type":"quantitative"},
"y":{"field":"v","type":"quantitative"},
"color":{"field":"lead","type":"nominal","scale":{"domain":["V5","V6","V7","V8"],"range":["#f6a42a","#ff8c0a","#eaa6ea","#b04cb3"]},
"legend":{"orient":"none","legendX":421,"legendY":9,"title":null,"symbolType":"stroke","symbolSize":1600,"symbolStrokeWidth":2,"labelFontSize":15,"labelOffset":21,"rowPadding":20.6,"padding":0,
"encode":{"symbols":{"update":{"strokeWidth":{"signal":"datum.label==='V6'?4.5:2"}}},"labels":{"update":{"fill":{"signal":"datum.label==='V5'?'#f6a42a':datum.label==='V6'?'#ff8c0a':datum.label==='V7'?'#eaa6ea':'#b04cb3'"}}}}}},
"strokeWidth":{"condition":{"test":"datum.lead==='V6'","value":4},"value":1.8}}}
],
"resolve":{"scale":{"color":"independent"},"legend":{"color":"independent"}}}
]}
